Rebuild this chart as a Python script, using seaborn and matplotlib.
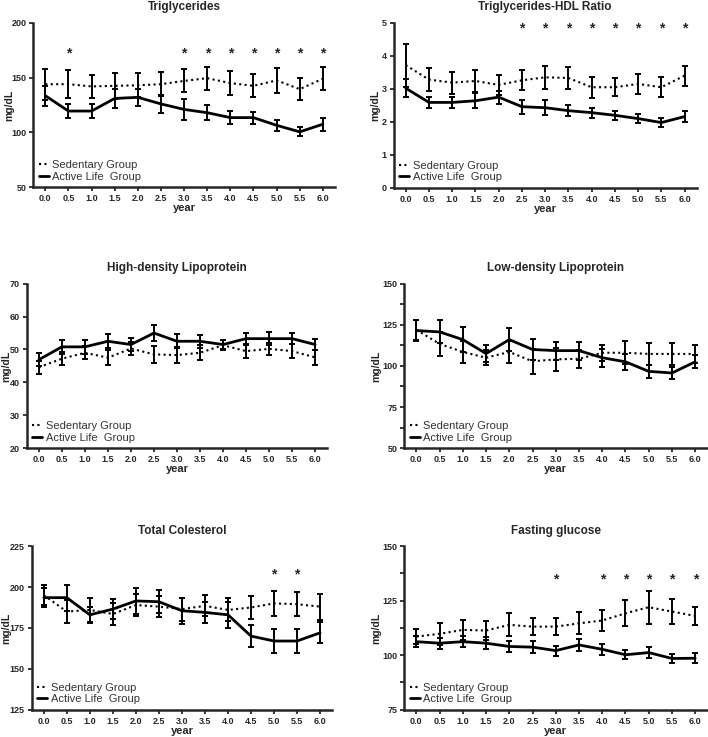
import numpy as np
import pandas as pd
import seaborn as sns
import matplotlib.pyplot as plt

sns.set_style('ticks')
plt.rcParams['font.family'] = ['Liberation Sans', 'DejaVu Sans']

years = [0.0, 0.5, 1.0, 1.5, 2.0, 2.5, 3.0, 3.5, 4.0, 4.5, 5.0, 5.5, 6.0]
groups = ['Sedentary Group', 'Active Life  Group']

# Triglycerides
tg_sed = [144, 144, 142, 142.5, 143, 144, 147, 149.5, 145, 142.5, 147.5, 139.5, 149]
tg_sed_err = [14, 13, 10.5, 12, 11, 11, 10.5, 10.5, 11, 10.5, 11.5, 10, 10.5]
tg_act = [133.5, 119.5, 119.5, 131, 132, 126, 121, 118, 113.5, 113.5, 106.5, 100.5, 107.5]
tg_act_err = [9, 6.5, 6, 9, 8, 8.5, 9.5, 7, 6, 5.5, 5, 4, 6]
tg_stars = [0.5, 3.0, 3.5, 4.0, 4.5, 5.0, 5.5, 6.0]

# Triglycerides-HDL ratio
ratio_sed = [3.72, 3.28, 3.19, 3.24, 3.12, 3.26, 3.35, 3.33, 3.05, 3.05, 3.15, 3.05, 3.4]
ratio_sed_err = [0.65, 0.34, 0.33, 0.32, 0.3, 0.3, 0.34, 0.33, 0.32, 0.28, 0.3, 0.3, 0.3]
ratio_act = [3.02, 2.59, 2.59, 2.64, 2.75, 2.46, 2.43, 2.34, 2.28, 2.2, 2.1, 1.98, 2.16]
ratio_act_err = [0.27, 0.17, 0.17, 0.23, 0.2, 0.21, 0.23, 0.16, 0.15, 0.14, 0.14, 0.13, 0.16]
ratio_stars = [2.5, 3.0, 3.5, 4.0, 4.5, 5.0, 5.5, 6.0]

# HDL
hdl_sed = [44.6, 47.2, 49, 47.5, 50.3, 48.5, 48.3, 49, 51.3, 49.5, 50.2, 49.5, 47.6]
hdl_sed_err = [2, 2, 2, 2.3, 2, 2.5, 2.4, 2.3, 1.5, 2, 1.9, 2.1, 2.2]
hdl_act = [46.9, 50.8, 50.8, 52.5, 51.5, 55, 52.5, 52.5, 51.5, 53.3, 53.3, 53.3, 51.5]
hdl_act_err = [1.9, 2.2, 2.2, 2.1, 2, 2.4, 2.2, 1.9, 1.5, 1.7, 1.9, 1.7, 1.7]

# LDL
ldl_sed = [122, 113.4, 108.5, 105, 108.5, 102.8, 104, 104.3, 108, 108, 107.3, 107.3, 107.3]
ldl_sed_err = [6, 7.5, 6.5, 4.5, 6.5, 7.5, 7, 5.3, 5, 7, 6.5, 6.5, 5.5]
ldl_act = [121.5, 120.7, 116, 107.5, 116, 110, 109.3, 109.3, 105, 102.5, 96.7, 95.7, 102.5]
ldl_act_err = [6.5, 7, 7.8, 5, 7, 6.5, 5.5, 5.5, 5.5, 5, 4, 3.5, 4]

# Total cholesterol
tc_sed = [195, 185, 186, 183.5, 189, 188, 186.5, 188.5, 186, 187.5, 190, 189.5, 188]
tc_sed_err = [6, 7, 7.5, 7, 7, 6.5, 7, 6.5, 7, 7, 7.5, 7.5, 8]
tc_act = [193.5, 193.5, 183, 186.5, 191.5, 191, 185.5, 184.5, 183, 170, 167, 167, 172]
tc_act_err = [6, 8, 5, 6, 8, 7, 8, 6.5, 8, 6.5, 7.5, 7.5, 6.5]
tc_stars = [5.0, 5.5]

# Fasting glucose
glu_sed = [108.5, 109.8, 111.6, 111.3, 113.9, 113.1, 113.1, 114.6, 115.9, 119.2, 122, 120, 118]
glu_sed_err = [3.5, 5, 4.5, 4.5, 5.3, 4, 4, 5, 5, 6, 7.5, 5.7, 4.3]
glu_act = [106.2, 105.5, 106.2, 105.5, 104, 103.7, 102.1, 104.7, 102.7, 100.2, 101.2, 98.5, 98.6]
glu_act_err = [2.5, 2.5, 2.5, 2.7, 2.7, 2.8, 2.3, 2.7, 2.6, 2.1, 2.4, 2, 2.2]
glu_stars = [3.0, 4.0, 4.5, 5.0, 5.5, 6.0]

# title, series..., star height, ylim, yticks, minor step, axes rect, ylabel offset (px)
panels = [
    ('Triglycerides', tg_sed, tg_sed_err, tg_act, tg_act_err, tg_stars, 172.5,
     (50, 200), [50, 100, 150, 200], None, [0.047, 0.746, 0.426, 0.223], -19),
    ('Triglycerides-HDL Ratio', ratio_sed, ratio_sed_err, ratio_act, ratio_act_err, ratio_stars, 4.82,
     (0, 5), [0, 1, 2, 3, 4, 5], None, [0.556, 0.745, 0.428, 0.224], -13),
    ('High-density Lipoprotein', hdl_sed, hdl_sed_err, hdl_act, hdl_act_err, [], None,
     (20, 70), [20, 30, 40, 50, 60, 70], None, [0.038, 0.392, 0.424, 0.223], -16),
    ('Low-density Lipoprotein', ldl_sed, ldl_sed_err, ldl_act, ldl_act_err, [], None,
     (50, 150), [50, 75, 100, 125, 150], 12.5, [0.571, 0.392, 0.428, 0.223], -23),
    ('Total Colesterol', tc_sed, tc_sed_err, tc_act, tc_act_err, tc_stars, 207.5,
     (125, 225), [125, 150, 175, 200, 225], None, [0.045, 0.037, 0.424, 0.222], -21),
    ('Fasting glucose', glu_sed, glu_sed_err, glu_act, glu_act_err, glu_stars, 134.5,
     (75, 150), [75, 100, 125, 150], 12.5, [0.571, 0.037, 0.428, 0.222], -23),
]

fig = plt.figure(figsize=(7.08, 7.37), dpi=100)

for title, sed, sed_err, act, act_err, stars, star_y, ylim, yticks, minor, pos, ylab_px in panels:
    ax = fig.add_axes(pos)
    df = pd.DataFrame({
        'year': years * 2,
        'value': sed + act,
        'group': [groups[0]] * len(years) + [groups[1]] * len(years),
    })
    sns.lineplot(data=df, x='year', y='value', hue='group', style='group',
                 palette=['black', 'black'], dashes=[(1, 1.6), ''],
                 size='group', sizes=[1.5, 2.0], ax=ax, legend=False)
    ax.errorbar(years, sed, yerr=sed_err, fmt='none', ecolor='black',
                elinewidth=1.4, capsize=2.5, capthick=1.4)
    ax.errorbar(years, act, yerr=act_err, fmt='none', ecolor='black',
                elinewidth=1.4, capsize=2.5, capthick=1.4)
    for s in stars:
        ax.text(s, star_y, '*', ha='center', va='center', fontsize=10,
                fontweight='bold')
    # legend with short handles
    h1, = ax.plot([], [], color='black', lw=1.5, ls=(0, (1, 1.6)))
    h2, = ax.plot([], [], color='black', lw=2.0)
    ax.legend([h1, h2], groups, loc='lower left', frameon=False,
              handlelength=0.9, handletextpad=0.3, fontsize=8,
              labelspacing=0.15, borderaxespad=0.1, labelcolor='#333333')

    ax.set_xlim(-0.26, 6.26)
    ax.set_ylim(*ylim)
    ax.set_xticks(years)
    ax.set_xticklabels([f'{y:.1f}' for y in years])
    ax.set_yticks(yticks)
    if minor:
        ax.set_yticks(np.arange(ylim[0] + minor, ylim[1], 2 * minor), minor=True)
    ax.tick_params(axis='both', labelsize=6.5, width=1.3, length=3, pad=2)
    ax.tick_params(axis='y', which='minor', width=1.3, length=3)
    for lab in ax.get_xticklabels() + ax.get_yticklabels():
        lab.set_fontweight('bold')
    sns.despine(ax=ax)
    ax.spines['left'].set_linewidth(1.8)
    ax.spines['bottom'].set_linewidth(1.8)
    ax.set_xlabel('year', fontsize=8, fontweight='bold', labelpad=0)
    ax.set_ylabel('mg/dL', fontsize=7.5, fontweight='bold')
    ax_w_px = pos[2] * 708
    ax.yaxis.set_label_coords(ylab_px / ax_w_px, 0.5)
    ax.set_title(title, fontsize=8.5, fontweight='bold', pad=9)

fig.savefig('out.png', dpi=100)
